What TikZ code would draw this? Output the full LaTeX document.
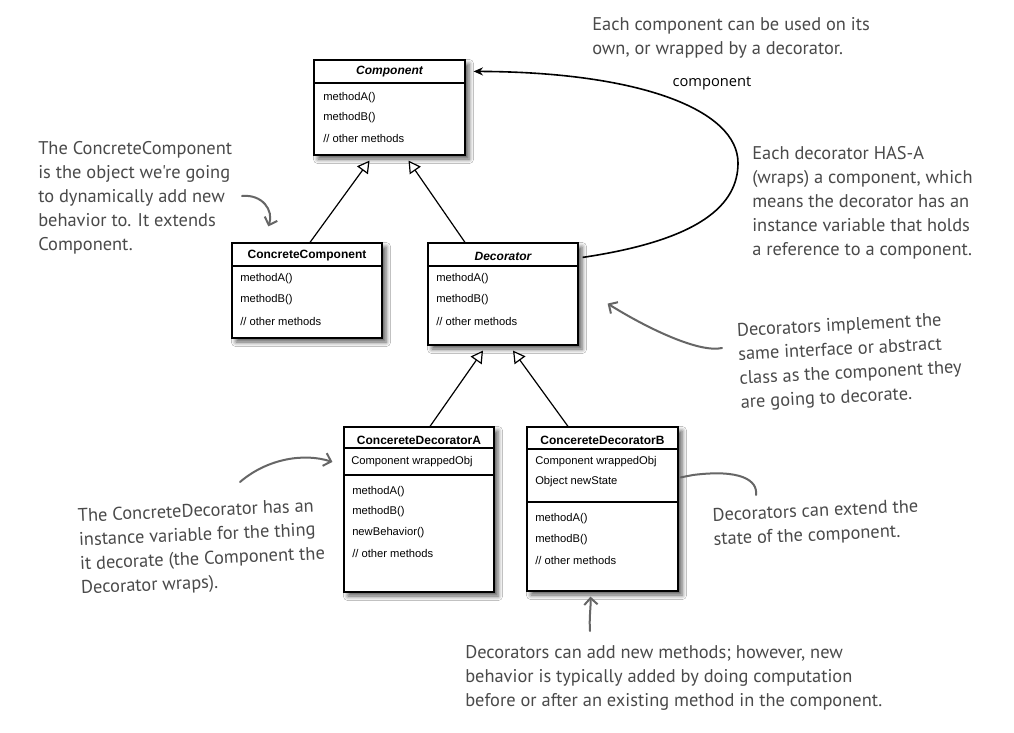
\documentclass[tikz,border=0pt]{standalone}
\usepackage{fontspec}
\setmainfont{Liberation Sans}
\newfontfamily\hand{PT Sans}
\newfontfamily\labelfont{Open Sans}
\usetikzlibrary{arrows.meta,shadows.blur,fit,calc}
\definecolor{ink}{HTML}{4A4A4A}
\definecolor{pen}{HTML}{666666}
\begin{document}
\begin{tikzpicture}[x=0.75pt,y=-0.75pt,
 umlbox/.style={draw=black, line width=0.9pt, fill=white, inner sep=0pt,
   blur shadow={shadow xshift=3pt, shadow yshift=-3pt, shadow blur radius=3.5pt, shadow opacity=65}},
 title/.style={font=\fontsize{9}{10}\selectfont\bfseries, inner sep=0pt},
 ititle/.style={font=\fontsize{9}{10}\selectfont\bfseries\itshape, inner sep=0pt},
 member/.style={font=\fontsize{8.4}{10}\selectfont, anchor=west, inner sep=0pt},
 sepline/.style={line width=0.8pt},
 inherit/.style={line width=0.9pt, -{Triangle[open,length=9pt,width=10pt,fill=white]}},
 assoc/.style={line width=1.2pt, -{Stealth[length=7pt,width=6pt]}},
 note/.style={font=\hand\fontsize{13.8}{18}\selectfont, text=ink, align=left, inner sep=0pt},
 pointer/.style={draw=pen, line width=1.5pt, line cap=round, -{Straight Barb[length=5pt,width=10pt]}},
 plainpointer/.style={draw=pen, line width=1.5pt, line cap=round},
]
\useasboundingbox (0,0) rectangle (1014,732);
\fill[white] (0,0) rectangle (1014,732);

% ---------- Component
\node[umlbox, fit={(314,60)(465,155)}] (comp) {};
\node[ititle] (compT) at (389.5,72) {Component};
\draw[sepline] (314,83) -- (465,83);
\node[member] (compA) at (323,98) {methodA()};
\node[member] (compB) at (323,118) {methodB()};
\node[member] (compO) at (323,138) {// other methods};

% ---------- ConcreteComponent
\node[umlbox, fit={(232,243)(382,338)}] (cc) {};
\node[title] (ccT) at (307,256) {ConcreteComponent};
\draw[sepline] (232,266) -- (382,266);
\node[member] (ccA) at (240,279) {methodA()};
\node[member] (ccB) at (240,300) {methodB()};
\node[member] (ccO) at (240,321) {// other methods};

% ---------- Decorator
\node[umlbox, fit={(428,243)(578,345)}] (dec) {};
\node[ititle] (decT) at (503,256) {Decorator};
\draw[sepline] (428,266) -- (578,266);
\node[member] (decA) at (436,279) {methodA()};
\node[member] (decB) at (436,300) {methodB()};
\node[member] (decO) at (436,321) {// other methods};

% ---------- ConcereteDecoratorA
\node[umlbox, fit={(344,427)(494,592)}] (cda) {};
\node[title] (cdaT) at (419,440) {ConcereteDecoratorA};
\draw[sepline] (344,448) -- (494,448);
\node[member] (cdaW) at (351,462) {Component wrappedObj};
\draw[sepline] (344,475) -- (494,475);
\node[member] (cdaA) at (352,492) {methodA()};
\node[member] (cdaB) at (352,512) {methodB()};
\node[member] (cdaN) at (352,533) {newBehavior()};
\node[member] (cdaO) at (352,553) {// other methods};

% ---------- ConcereteDecoratorB
\node[umlbox, fit={(527,427)(678,591)}] (cdb) {};
\node[title] (cdbT) at (602.5,440) {ConcereteDecoratorB};
\draw[sepline] (527,449) -- (678,449);
\node[member] (cdbW) at (535,462) {Component wrappedObj};
\node[member] (cdbS) at (535,482) {Object newState};
\draw[sepline] (527,502) -- (678,502);
\node[member] (cdbA) at (535,519) {methodA()};
\node[member] (cdbB) at (535,540) {methodB()};
\node[member] (cdbO) at (535,560) {// other methods};

% ---------- inheritance
\draw[inherit] ($(cc.north)+(3,0)$) -- ($(comp.south)+(-20,5)$);
\draw[inherit] ($(dec.north)+(-38,0)$) -- ($(comp.south)+(19,5)$);
\draw[inherit] ($(cda.north)+(11,0)$) -- ($(dec.south)+(-20,5)$);
\draw[inherit] ($(cdb.north)+(-34.5,0)$) -- ($(dec.south)+(10,5)$);

% ---------- association
\draw[assoc] ($(dec.north east)+(4,15)$) .. controls (700,240) and (738,205) .. (738,163)
   .. controls (738,110) and (640,72) .. ($(comp.north east)+(8,12)$);
\node[font=\labelfont\fontsize{11}{13}\selectfont, inner sep=0pt] (complabel) at (712,83) {component};

% ---------- notes
\node[note, anchor=north west] (n1) at (38,141)
  {The ConcreteComponent\\is the object we're going\\to dynamically add new\\behavior to. It extends\\Component.};
\coordinate (n1s) at (242,196);
\draw[pointer] (n1s) .. controls (262,194) and (274,210) .. ($(cc.north west)+(37,-16)$);

\node[note, anchor=north west] (n2) at (592,17)
  {Each component can be used on its\\own, or wrapped by a decorator.};

\node[note, anchor=north west] (n3) at (752,146)
  {Each decorator HAS-A\\(wraps) a component, which\\means the decorator has an\\instance variable that holds\\a reference to a component.};

\node[note, rotate=3] (n4) at (850,362)
  {Decorators implement the\\same interface or abstract\\class as the component they\\are going to decorate.};
\coordinate (n4s) at (722,348);
\draw[pointer] (n4s) .. controls (700,353) and (650,330) .. ($(dec.south east)+(29,-42)$);

\node[note, rotate=2.5] (n5) at (202,548)
  {The ConcreteDecorator has an\\instance variable for the thing\\it decorate (the Component the\\Decorator wraps).};
\coordinate (n5s) at (240,482);
\draw[pointer] (n5s) .. controls (268,458) and (305,453) .. ($(cda.west)+(-11,-47.5)$);

\node[note, rotate=2.5] (n6) at (816,524)
  {Decorators can extend the\\state of the component.};
\coordinate (n6e) at (756,495);
\draw[plainpointer] ($(cdb.north east)+(2,51)$) -- (693,475) .. controls (740,469) and (758,480) .. (n6e);

\node[note, anchor=north west] (n7) at (465,645)
  {Decorators can add new methods; however, new\\behavior is typically added by doing computation\\before or after an existing method in the component.};
\coordinate (n7s) at (590,631);
\draw[pointer] (n7s) .. controls (589,618) and (591,606) .. ($(cdb.south)+(-12,5)$);
\end{tikzpicture}
\end{document}
